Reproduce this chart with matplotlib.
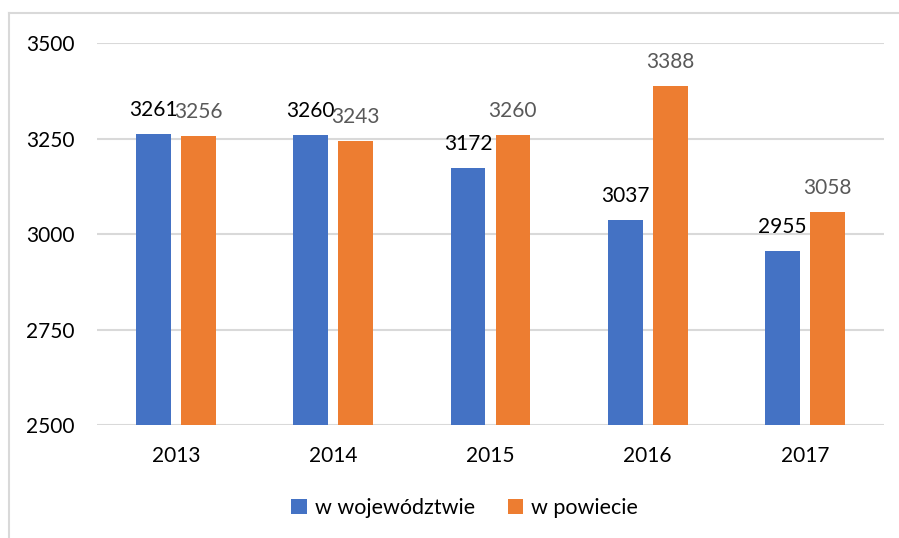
import numpy as np
import matplotlib
matplotlib.use("Agg")
from matplotlib import pyplot as plt
from matplotlib.lines import Line2D

years = ["2013", "2014", "2015", "2016", "2017"]
wojewodztwo = [3261, 3260, 3172, 3037, 2955]
powiat = [3256, 3243, 3260, 3388, 3058]
series_names = ["w województwie", "w powiecie"]

plt.rcParams['font.family'] = ['Lato', 'DejaVu Sans']

fig = plt.figure(figsize=(8.99, 5.38), dpi=100)
ax = fig.add_axes([0.108, 0.210, 0.875, 0.710])

x = np.arange(len(years))
w = 0.22
off = 0.143
b1 = ax.bar(x - off, wojewodztwo, w, color='#4472C4', label=series_names[0], zorder=3)
b2 = ax.bar(x + off, powiat, w, color='#ED7D31', label=series_names[1], zorder=3)

# value labels
for xi, v in zip(x - off, wojewodztwo):
    ax.annotate(str(v), (xi, v), xytext=(0, 13), textcoords='offset points',
                ha='center', va='baseline', fontsize=15, color='black')
for xi, v in zip(x + off, powiat):
    ax.annotate(str(v), (xi, v), xytext=(0, 13), textcoords='offset points',
                ha='center', va='baseline', fontsize=15, color='#595959')

ax.set_ylim(2500, 3500)
ax.set_xlim(-0.5, 4.5)
ax.set_yticks([2500, 2750, 3000, 3250, 3500])
ax.set_xticks(x)
ax.set_xticklabels(years)
ax.tick_params(axis='both', length=0, labelsize=15, colors='black')
ax.tick_params(axis='y', pad=16)
ax.tick_params(axis='x', pad=15)
ax.grid(axis='y', color='#d9d9d9', linewidth=1.5, zorder=0)
for s in ax.spines.values():
    s.set_visible(False)

leg = fig.legend(loc='center', bbox_to_anchor=(0.517, 0.056), ncol=2, frameon=False,
                 fontsize=15.5, handlelength=0.7, handleheight=0.7, handletextpad=0.4,
                 columnspacing=1.5)

# outer chart border (top and left visible)
fig.add_artist(Line2D([0.010, 1.0], [0.976, 0.976], transform=fig.transFigure,
                      color='#d9d9d9', linewidth=1.5))
fig.add_artist(Line2D([0.010, 0.010], [0.0, 0.976], transform=fig.transFigure,
                      color='#d9d9d9', linewidth=1.5))

plt.savefig('out.png', dpi=100)
